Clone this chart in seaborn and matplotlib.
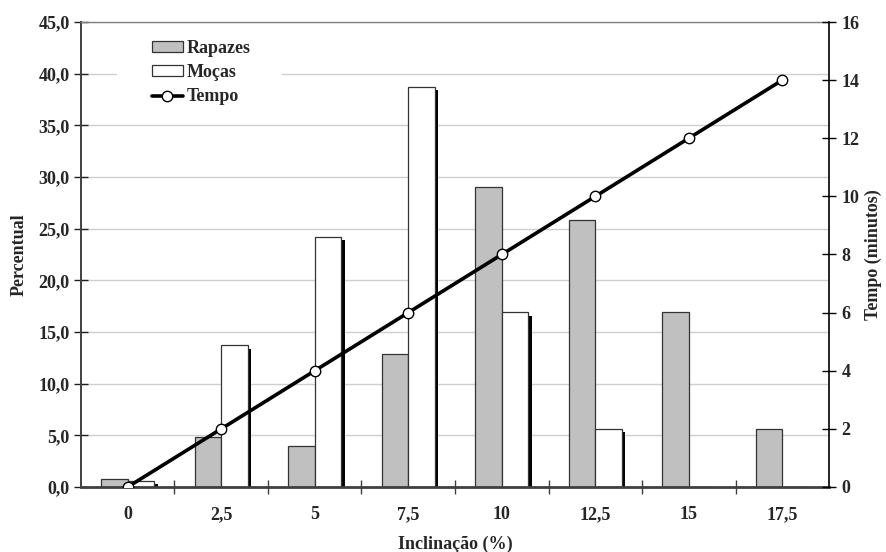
import numpy as np
import pandas as pd
import matplotlib
matplotlib.use("Agg")
import matplotlib.pyplot as plt
import matplotlib.patheffects as pe
from matplotlib.patches import Rectangle
from matplotlib.lines import Line2D
from matplotlib.ticker import FixedLocator, FuncFormatter
import seaborn as sns

# Data
categorias = ["0", "2,5", "5", "7,5", "10", "12,5", "15", "17,5"]
rapazes = [0.8, 4.8, 4.0, 12.9, 29.0, 25.8, 16.9, 5.6]
mocas = [0.6, 13.7, 24.2, 38.7, 16.9, 5.6, 0.0, 0.0]
tempo = [0, 2, 4, 6, 8, 10, 12, 14]
grupos = ["Rapazes", "Moças"]

df = pd.DataFrame({
    "Inclinação": categorias * 2,
    "Percentual": rapazes + mocas,
    "Grupo": [grupos[0]] * len(categorias) + [grupos[1]] * len(categorias),
})

sns.set_theme(style="white")
plt.rcParams["font.family"] = ["Liberation Serif", "DejaVu Serif"]
plt.rcParams["font.weight"] = "bold"

fig = plt.figure(figsize=(8.86, 5.52), dpi=100)
ax = fig.add_axes([0.0914, 0.1178, 0.8443, 0.8423])

FS = 13
gray = "#c0c0c0"

sns.barplot(data=df, x="Inclinação", y="Percentual", hue="Grupo",
            order=categorias, hue_order=grupos,
            palette=[gray, "white"], width=0.57, gap=0,
            edgecolor="#333333", linewidth=0.9, errorbar=None,
            legend=False, ax=ax, zorder=2)

# drop shadow on the white bars
for bar in ax.containers[1]:
    if bar.get_height() > 0:
        bar.set_path_effects([pe.SimplePatchShadow(offset=(2.3, -2.3),
                                                   shadow_rgbFace="black",
                                                   alpha=1.0),
                              pe.Normal()])

ax.set_xlim(-0.5, len(categorias) - 0.5)
ax.set_ylim(0, 45)
ax.yaxis.set_major_locator(FixedLocator(np.arange(0, 45.1, 5)))
ax.yaxis.set_major_formatter(FuncFormatter(lambda v, p: f"{v:.1f}".replace(".", ",")))
ax.set_axisbelow(True)
ax.grid(axis="y", color="#cfcfcf", linewidth=1.0)
ax.grid(axis="x", visible=False)

# category boundaries as minor ticks
ax.xaxis.set_minor_locator(FixedLocator(np.arange(0.5, len(categorias) - 1, 1.0)))
ax.tick_params(axis="x", which="major", length=0, pad=14, labelsize=FS)
ax.tick_params(axis="x", which="minor", direction="inout", length=10,
               width=1.0, color="#404040", bottom=True)
ax.tick_params(axis="y", which="major", direction="inout", length=10,
               width=1.0, color="#202020", left=True, pad=3, labelsize=FS)

for s in ["left", "bottom"]:
    ax.spines[s].set_color("#404040")
ax.spines["left"].set_linewidth(1.4)
ax.spines["bottom"].set_linewidth(2.0)
ax.spines["top"].set_color("#808080")
ax.spines["top"].set_linewidth(1.0)
ax.spines["right"].set_visible(False)

ax.set_xlabel("Inclinação (%)", fontsize=FS, fontweight="bold", labelpad=9)
ax.set_ylabel("Percentual", fontsize=FS, fontweight="bold", labelpad=8)

# white panel behind the legend
ax.add_patch(Rectangle((0.048, 36.5), 0.221, 7.0, transform=ax.get_yaxis_transform(),
                       facecolor="white", edgecolor="none", zorder=1))

# secondary axis: time
ax2 = ax.twinx()
pos = np.arange(len(categorias))
sns.lineplot(x=pos, y=tempo, ax=ax2, color="black", linewidth=2.6,
             marker="o", markersize=7.5, markerfacecolor="white",
             markeredgecolor="black", markeredgewidth=1.0, zorder=5)
ax2.set_ylim(0, 16)
ax2.yaxis.set_major_locator(FixedLocator(np.arange(0, 16.1, 2)))
ax2.yaxis.set_major_formatter(FuncFormatter(lambda v, p: f"{int(v)}"))
ax2.tick_params(axis="y", which="major", direction="inout", length=10,
                width=1.0, color="black", right=True, pad=4, labelsize=FS)
ax2.spines["right"].set_color("black")
ax2.spines["right"].set_linewidth(1.2)
for s in ["left", "top", "bottom"]:
    ax2.spines[s].set_visible(False)
ax2.grid(False)
ax2.set_ylabel("Tempo (minutos)", fontsize=FS, fontweight="bold", labelpad=4)

handles = [
    Rectangle((0, 0), 1, 1, facecolor=gray, edgecolor="#333333", linewidth=0.9),
    Rectangle((0, 0), 1, 1, facecolor="white", edgecolor="#333333", linewidth=0.9),
    Line2D([], [], color="black", linewidth=2.6, marker="o", markersize=7.5,
           markerfacecolor="white", markeredgecolor="black", markeredgewidth=1.0),
]
ax2.legend(handles, ["Rapazes", "Moças", "Tempo"], loc="upper left",
           bbox_to_anchor=(152 / 886, 1 - 40 / 552), bbox_transform=fig.transFigure,
           frameon=False, borderpad=0, borderaxespad=0, handlelength=1.7,
           handleheight=0.55, handletextpad=0.2, labelspacing=0.4,
           prop={"family": "Liberation Serif", "weight": "bold", "size": FS})

fig.savefig("out.png", dpi=100)
